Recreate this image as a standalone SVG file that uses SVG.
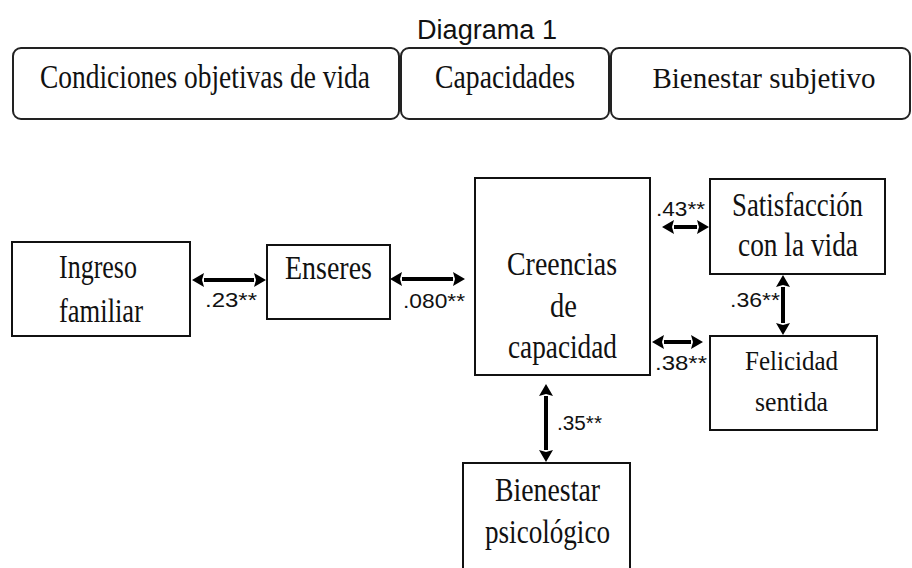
<svg xmlns="http://www.w3.org/2000/svg" width="912" height="568" viewBox="0 0 912 568">
<style>
.box{fill:#fff;stroke:#111;stroke-width:2}
.hdr{fill:#fff;stroke:#222;stroke-width:2}
.t{font-family:"Liberation Serif","Times New Roman",serif;font-size:34px;fill:#111;text-anchor:start}
.ts{font-family:"Liberation Serif","Times New Roman",serif;font-size:28px;fill:#111}
.lab{font-family:"Liberation Sans",Arial,sans-serif;font-size:20px;fill:#111}
.ttl{font-family:"Liberation Sans",Arial,sans-serif;font-size:27px;fill:#111}
.arr{stroke:#000;stroke-width:4;fill:none;marker-start:url(#ah);marker-end:url(#ah)}
</style>
<defs>
<marker id="ah" viewBox="0 0 12 14" refX="0" refY="7" markerWidth="12" markerHeight="14" markerUnits="userSpaceOnUse" orient="auto-start-reverse">
<path d="M0,0 L12,7 L0,14 L2,7 z" fill="#000"/>
</marker>
</defs>
<rect width="912" height="568" fill="#fff"/>
<g id="header">
<text class="ttl" x="417" y="39" textLength="140" lengthAdjust="spacingAndGlyphs">Diagrama 1</text>
<rect class="hdr" x="13" y="48" width="386" height="71" rx="8"/>
<rect class="hdr" x="401" y="48" width="208" height="71" rx="8"/>
<rect class="hdr" x="611" y="48" width="299" height="71" rx="8"/>
<text class="t" x="40" y="88" textLength="330" lengthAdjust="spacingAndGlyphs">Condiciones objetivas de vida</text>
<text class="t" x="435" y="88" textLength="140" lengthAdjust="spacingAndGlyphs">Capacidades</text>
<text x="764" y="88" style="font-family:'Liberation Serif','Times New Roman',serif;font-size:29px;fill:#111;text-anchor:middle">Bienestar subjetivo</text>
</g>
<g id="connectors">
<line class="arr" x1="204" y1="280" x2="254" y2="280"/>
<line class="arr" x1="402" y1="279" x2="453" y2="279"/>
<line class="arr" x1="674" y1="227" x2="697" y2="227"/>
<line class="arr" x1="664" y1="342" x2="691" y2="342"/>
<line class="arr" x1="783" y1="287" x2="783" y2="323"/>
<line class="arr" x1="546" y1="396" x2="546" y2="450"/>
<text class="lab" x="205" y="307" textLength="52" lengthAdjust="spacingAndGlyphs">.23**</text>
<text class="lab" x="403" y="308" textLength="62" lengthAdjust="spacingAndGlyphs">.080**</text>
<text class="lab" x="656" y="216" textLength="49" lengthAdjust="spacingAndGlyphs">.43**</text>
<text class="lab" x="730" y="307" textLength="50" lengthAdjust="spacingAndGlyphs">.36**</text>
<text class="lab" x="655" y="370" textLength="52" lengthAdjust="spacingAndGlyphs">.38**</text>
<text class="lab" x="557" y="430" textLength="45" lengthAdjust="spacingAndGlyphs">.35**</text>
</g>
<g id="ingreso">
<rect class="box" x="12" y="242" width="178" height="94"/>
<text class="t" x="59" y="278" textLength="78" lengthAdjust="spacingAndGlyphs">Ingreso</text>
<text class="t" x="59" y="322" textLength="84" lengthAdjust="spacingAndGlyphs">familiar</text>
</g>
<g id="enseres">
<rect class="box" x="267" y="245" width="123" height="74"/>
<text class="t" x="285" y="279" textLength="87" lengthAdjust="spacingAndGlyphs">Enseres</text>
</g>
<g id="creencias">
<rect class="box" x="475" y="178" width="175" height="197"/>
<text class="t" x="507" y="275" textLength="110" lengthAdjust="spacingAndGlyphs">Creencias</text>
<text class="t" x="550" y="317" textLength="27" lengthAdjust="spacingAndGlyphs">de</text>
<text class="t" x="508" y="358" textLength="109" lengthAdjust="spacingAndGlyphs">capacidad</text>
</g>
<g id="satisfaccion">
<rect class="box" x="710" y="179" width="175" height="95"/>
<text class="t" x="732" y="216" textLength="131" lengthAdjust="spacingAndGlyphs">Satisfacción</text>
<text class="t" x="738" y="256" textLength="120" lengthAdjust="spacingAndGlyphs">con la vida</text>
</g>
<g id="felicidad">
<rect class="box" x="710" y="336" width="167" height="94"/>
<text class="ts" x="745" y="370" textLength="93" lengthAdjust="spacingAndGlyphs">Felicidad</text>
<text class="ts" x="755" y="411" textLength="73" lengthAdjust="spacingAndGlyphs">sentida</text>
</g>
<g id="bienestar-psicologico">
<rect class="box" x="463" y="463" width="167" height="115"/>
<text class="t" x="495" y="501" textLength="105" lengthAdjust="spacingAndGlyphs">Bienestar</text>
<text class="t" x="485" y="543" textLength="125" lengthAdjust="spacingAndGlyphs">psicológico</text>
</g>
</svg>
